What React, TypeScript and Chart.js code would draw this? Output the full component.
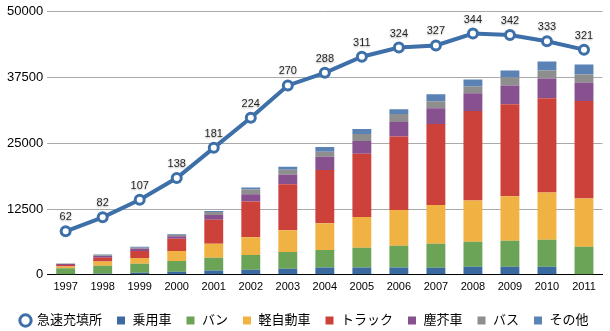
import React, { useEffect, useRef } from "react";
import { Chart, registerables } from "chart.js";

Chart.register(...registerables);

const years = ["1997","1998","1999","2000","2001","2002","2003","2004","2005","2006","2007","2008","2009","2010","2011"];
const stations = [62, 82, 107, 138, 181, 224, 270, 288, 311, 324, 327, 344, 342, 333, 321];
const passenger = [0, 190, 380, 570, 810, 940, 1130, 1380, 1380, 1380, 1320, 1510, 1510, 1510, 0];
const van = [1260, 1510, 1700, 2070, 2450, 2830, 3200, 3330, 3770, 4150, 4580, 4770, 4960, 5150, 5340];
const kei = [300, 810, 1130, 1880, 2640, 3390, 4150, 5090, 5840, 6790, 7350, 7860, 8480, 8990, 9180];
const truck = [320, 750, 1320, 2320, 4580, 6790, 8730, 10120, 12000, 13950, 15400, 17020, 17470, 17910, 18530];
const garbage = [190, 320, 440, 500, 880, 1380, 1830, 2510, 2450, 2770, 3020, 3340, 3580, 3770, 3520];
const bus = [100, 130, 190, 250, 570, 880, 940, 940, 1320, 1510, 1320, 1320, 1510, 1510, 1510];
const other = [0, 130, 190, 130, 190, 380, 570, 940, 940, 940, 1320, 1320, 1320, 1700, 1890];
const yTicks = [0, 12500, 25000, 37500, 50000];

const FONT = "'Liberation Sans', 'Noto Sans CJK JP', sans-serif";
const LINE = "#3d6fa9";

const labelPlugin = {
  id: "pointLabels",
  afterDatasetsDraw(chart: any) {
    const meta = chart.getDatasetMeta(0);
    const ctx = chart.ctx;
    ctx.save();
    ctx.font = `11px ${FONT}`;
    ctx.textAlign = "center";
    ctx.textBaseline = "middle";
    meta.data.forEach((pt: any, i: number) => {
      const txt = String(stations[i]);
      ctx.shadowColor = "rgba(0,0,0,0.35)";
      ctx.shadowBlur = 2;
      ctx.shadowOffsetY = 1;
      ctx.fillStyle = "#ffffff";
      ctx.fillText(txt, pt.x, pt.y - 14);
      ctx.shadowColor = "transparent";
      ctx.fillStyle = "#222222";
      ctx.fillText(txt, pt.x, pt.y - 14);
    });
    ctx.restore();
  },
};

// Tighten the legend's vertical footprint without changing its horizontal spacing.
const legendTweak = {
  id: "legendTweak",
  afterInit(chart: any) {
    const lg = chart.legend;
    if (!lg || lg.__patched) return;
    lg.__patched = true;
    const origFit = lg.fit.bind(lg);
    lg.fit = () => {
      origFit();
      lg.height = Math.max(0, lg.height - 6);
    };
  },
};

export default function App() {
  const ref = useRef<HTMLCanvasElement | null>(null);
  useEffect(() => {
    document.body.style.margin = "0";
    const bar = (label: string, data: number[], color: string) => ({
      type: "bar" as const,
      label,
      data,
      backgroundColor: color,
      borderWidth: 0,
      stack: "s",
      yAxisID: "y",
      order: 1,
      barPercentage: 0.51,
      categoryPercentage: 1,
    });
    const chart = new Chart(ref.current!, {
      type: "bar",
      data: {
        labels: years,
        datasets: [
          {
            type: "line",
            label: "急速充填所",
            data: stations,
            borderColor: LINE,
            backgroundColor: "#ffffff",
            borderWidth: 4,
            pointRadius: 4.5,
            pointBorderWidth: 3,
            pointBackgroundColor: "#ffffff",
            pointBorderColor: LINE,
            yAxisID: "y1",
            order: 0,
          } as any,
          bar("乗用車", passenger, "#3b6aa0"),
          bar("バン", van, "#6ba456"),
          bar("軽自動車", kei, "#f0b242"),
          bar("トラック", truck, "#cc423a"),
          bar("塵芥車", garbage, "#87508f"),
          bar("バス", bus, "#8e8e8e"),
          bar("その他", other, "#5a82b5"),
        ],
      },
      options: {
        responsive: false,
        animation: false,
        layout: { padding: { left: 3, right: 4, top: 4, bottom: 0 } },
        plugins: {
          tooltip: { enabled: false },
          legend: {
            position: "bottom",
            labels: {
              font: { family: FONT, size: 13 },
              color: "#000",
              usePointStyle: true,
              boxWidth: 10,
              boxHeight: 8,
              padding: 14,
              generateLabels(c: any) {
                const items = Chart.defaults.plugins.legend.labels.generateLabels(c);
                return items.map((it: any, i: number) => {
                  if (i === 0) {
                    return { ...it, pointStyle: "circle", fillStyle: "#ffffff", strokeStyle: LINE, lineWidth: 3 };
                  }
                  return { ...it, pointStyle: "rect", lineWidth: 0, strokeStyle: it.fillStyle };
                });
              },
            },
          },
        },
        scales: {
          x: {
            stacked: true,
            grid: { display: false, drawTicks: false },
            border: { display: true, color: "#000", width: 1 },
            ticks: { color: "#000", font: { family: FONT, size: 11 }, padding: 6, maxRotation: 0 },
          },
          y: {
            stacked: true,
            min: 0,
            max: 50000,
            afterBuildTicks(s: any) {
              s.ticks = yTicks.map((v) => ({ value: v }));
            },
            grid: { color: "#aaaaaa", lineWidth: 1, drawTicks: false },
            border: { display: false },
            ticks: {
              color: "#000",
              font: { family: FONT, size: 13 },
              padding: 4,
              callback: (v: any) => String(v),
            },
          },
          y1: {
            display: false,
            min: 0,
            max: 375,
          },
        },
      } as any,
      plugins: [legendTweak, labelPlugin],
    });
    return () => chart.destroy();
  }, []);
  return (
    <div style={{ width: 610, height: 331, background: "#fff" }}>
      <canvas ref={ref} width={610} height={331} />
    </div>
  );
}
